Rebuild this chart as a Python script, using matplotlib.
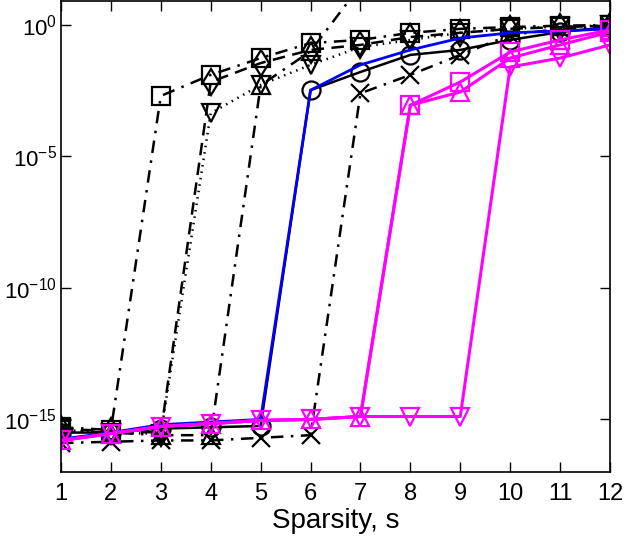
import numpy as np
import matplotlib
matplotlib.use("Agg")
import matplotlib.pyplot as plt

plt.rcParams['font.family'] = ['Liberation Sans', 'DejaVu Sans']
plt.rcParams['mathtext.fontset'] = 'custom'
plt.rcParams['mathtext.rm'] = 'Liberation Sans'
plt.rcParams['mathtext.it'] = 'Liberation Sans:italic'

s = np.arange(1, 13)

# log10 of the error (nan = not drawn / off chart)
k_square = [-15.3, -15.4, -2.7, -1.9, -1.26, -0.69, -0.57, -0.3, -0.15, -0.08, -0.03, 0.0]
k_diamond = [-15.35, -15.45, -15.5, -2.17, -1.45, -0.95, -0.76, -0.46, -0.3, -0.15, -0.08, -0.03]
k_vdown = [-15.4, -15.5, -15.55, -3.36, -2.28, -1.52, -0.84, -0.57, -0.3, -0.15, -0.06, -0.02]
k_vup = [-15.45, -15.5, -15.6, -15.6, -2.3, -1.0, 1.5, np.nan, np.nan, np.nan, np.nan, np.nan]
k_circle = [-15.5, -15.5, -15.35, -15.3, -15.25, -2.48, -1.79, -1.14, -0.95, -0.57, -0.27, -0.08]
k_cross = [-15.9, -15.85, -15.8, -15.8, -15.7, -15.6, -2.6, -1.9, -1.14, -0.38, -0.15, -0.05]
blue = [-15.75, -15.5, -15.2, -15.1, -15.0, -2.48, -1.52, -0.95, -0.5, -0.3, -0.23, -0.15]
m_square = [-15.8, -15.54, -15.27, -15.16, -15.04, -15.0, -14.89, -3.05, -2.17, -1.03, -0.57, -0.19]
m_vup = [-15.8, -15.54, -15.27, -15.16, -15.04, -15.0, -14.89, -3.05, -2.55, -1.26, -0.76, -0.27]
m_vdown = [-15.8, -15.54, -15.27, -15.16, -15.04, -15.0, -14.89, -14.89, -14.89, -1.6, -1.26, -0.76]

fig = plt.figure(figsize=(6.26, 5.45), dpi=100)
ax = fig.add_axes([61 / 626, 73 / 545, 549 / 626, 471 / 545])

dashdot = (0, (5, 3, 1, 3))
dashed = (0, (5, 3))
dotted = (0, (0.6, 2))

mk = dict(markersize=13, markeredgewidth=1.6, fillstyle='none')
ax.plot(s, 10.0 ** np.array(k_square), color='k', ls=dashdot, marker='s', lw=1.8, **mk)
ax.plot(s, 10.0 ** np.array(k_diamond), color='k', ls=dashed, marker='d', lw=1.8, **mk)
ax.plot(s, 10.0 ** np.array(k_vdown), color='k', ls=dotted, marker='v', lw=1.8, **mk)
ax.plot(s, 10.0 ** np.array(k_vup), color='k', ls=dashdot, marker='^', lw=1.8, **mk)
ax.plot(s, 10.0 ** np.array(k_cross), color='k', ls=dashdot, marker='x', lw=1.8, **mk)
ax.plot(s, 10.0 ** np.array(k_circle), 'k-', marker='o', lw=1.8, **mk)
ax.plot(s, 10.0 ** np.array(blue), '-', color='#0000ff', lw=2.0)
ax.plot(s, 10.0 ** np.array(m_square), '-', color='#ff00ff', marker='s', lw=2.2,
        markevery=slice(7, None), **mk)
ax.plot(s, 10.0 ** np.array(m_vup), '-', color='#ff00ff', marker='^', lw=2.2, **mk)
ax.plot(s, 10.0 ** np.array(m_vdown), '-', color='#ff00ff', marker='v', lw=2.2, **mk)

ax.set_yscale('log')
ax.set_xlim(1, 12)
ax.set_ylim(1e-17, 10 ** 0.91)
ax.set_xticks(s)
ax.set_yticks([1e-15, 1e-10, 1e-5, 1e0])
ax.yaxis.set_minor_locator(matplotlib.ticker.NullLocator())
ax.tick_params(direction='in', top=True, right=True, length=7, width=1, labelsize=17, pad=8)
ax.tick_params(axis='y', labelsize=16, pad=3)
for sp in ax.spines.values():
    sp.set_linewidth(1.2)
ax.set_xlabel('Sparsity, s', fontsize=20, labelpad=2)

fig.savefig('out.png', dpi=100)
